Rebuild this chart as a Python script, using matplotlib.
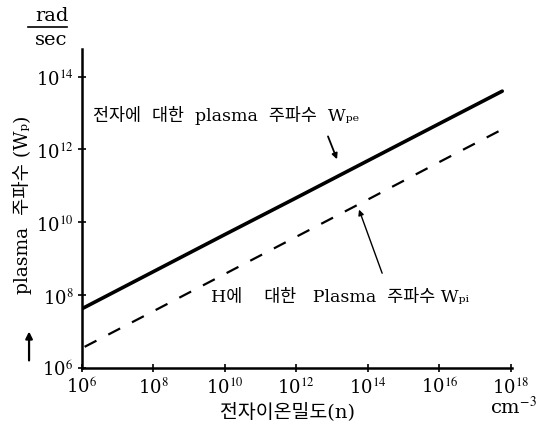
import numpy as np
import matplotlib
matplotlib.use("Agg")
import matplotlib.pyplot as plt
from matplotlib.lines import Line2D

plt.rcParams['font.family'] = ['DejaVu Serif', 'Noto Sans CJK KR', 'DejaVu Sans']
plt.rcParams['mathtext.fontset'] = 'stix'

# electron density n (cm^-3) and plasma frequency (rad/sec)
n_electron = [1e6, 1e8, 1e10, 1e12, 1e14, 1e16, 5.8e17]
w_pe = [4.2e7, 4.4e8, 4.6e9, 4.7e10, 4.9e11, 5.1e12, 4.0e13]

n_ion = [1.2e6, 1e8, 1e10, 1e12, 1e14, 1e16, 8e17]
w_pi = [3.8e6, 3.6e7, 3.8e8, 4.0e9, 4.2e10, 4.5e11, 4.2e12]

x_ticks = [1e6, 1e8, 1e10, 1e12, 1e14, 1e16, 1e18]
x_labels = ['10$^{6}$', '10$^{8}$', '10$^{10}$', '10$^{12}$', '10$^{14}$', '10$^{16}$', '10$^{18}$']
y_ticks = [1e6, 1e8, 1e10, 1e12, 1e14]
y_labels = ['10$^{6}$', '10$^{8}$', '10$^{10}$', '10$^{12}$', '10$^{14}$']

fig = plt.figure(figsize=(5.38, 4.31), dpi=100)
ax = fig.add_axes([0.152, 0.144, 0.800, 0.740])

ax.plot(n_electron, w_pe, color='black', lw=2.6, solid_capstyle='round')
ax.plot(n_ion, w_pi, color='black', lw=1.6, dashes=(6, 6))

ax.set_xscale('log')
ax.set_yscale('log')
ax.set_xlim(1e6, 1.1e18)
ax.set_ylim(1e6, 10**14.76)

ax.spines['top'].set_visible(False)
ax.spines['right'].set_visible(False)
ax.spines['left'].set_linewidth(1.8)
ax.spines['bottom'].set_linewidth(1.8)

ax.set_xticks(x_ticks)
ax.set_xticklabels(x_labels, fontsize=13)
ax.set_yticks(y_ticks)
ax.set_yticklabels(y_labels, fontsize=13)
ax.minorticks_off()
ax.tick_params(direction='inout', length=6, width=1.2, pad=3)

# curve labels with pointer lines
ax.text(0.025, 0.795, '전자에  대한  plasma  주파수  Wₚₑ', transform=ax.transAxes,
        fontsize=12.5, ha='left', va='center')
ax.annotate('', xy=(10**13.17, 10**11.66), xytext=(10**12.86, 10**12.43),
            arrowprops=dict(arrowstyle='-|>', color='black', lw=1.3, mutation_scale=8))

ax.text(0.30, 0.225, 'H에    대한   Plasma  주파수 Wₚᵢ', transform=ax.transAxes,
        fontsize=12.5, ha='left', va='center')
ax.annotate('', xy=(10**13.73, 10**10.42), xytext=(10**14.43, 10**8.53),
            arrowprops=dict(arrowstyle='-|>', color='black', lw=1.0, mutation_scale=8))

# axis titles
fig.text(0.535, 0.045, '전자이온밀도(n)', fontsize=14, ha='center', va='center')
fig.text(0.955, 0.055, 'cm$^{-3}$', fontsize=14, ha='center', va='center')

fig.text(0.040, 0.525, 'plasma  주파수 (Wₚ)', fontsize=13.5, rotation=90,
         ha='center', va='center')
ax.annotate('', xy=(0.054, 0.235), xytext=(0.054, 0.155), xycoords='figure fraction',
            textcoords='figure fraction',
            arrowprops=dict(arrowstyle='-|>', color='black', lw=1.6, mutation_scale=10))

fig.text(0.097, 0.963, 'rad', fontsize=14, ha='center', va='center')
fig.add_artist(Line2D([0.052, 0.125], [0.935, 0.935], color='black', lw=1.2))
fig.text(0.095, 0.907, 'sec', fontsize=14, ha='center', va='center')

fig.savefig('out.png', dpi=100)
